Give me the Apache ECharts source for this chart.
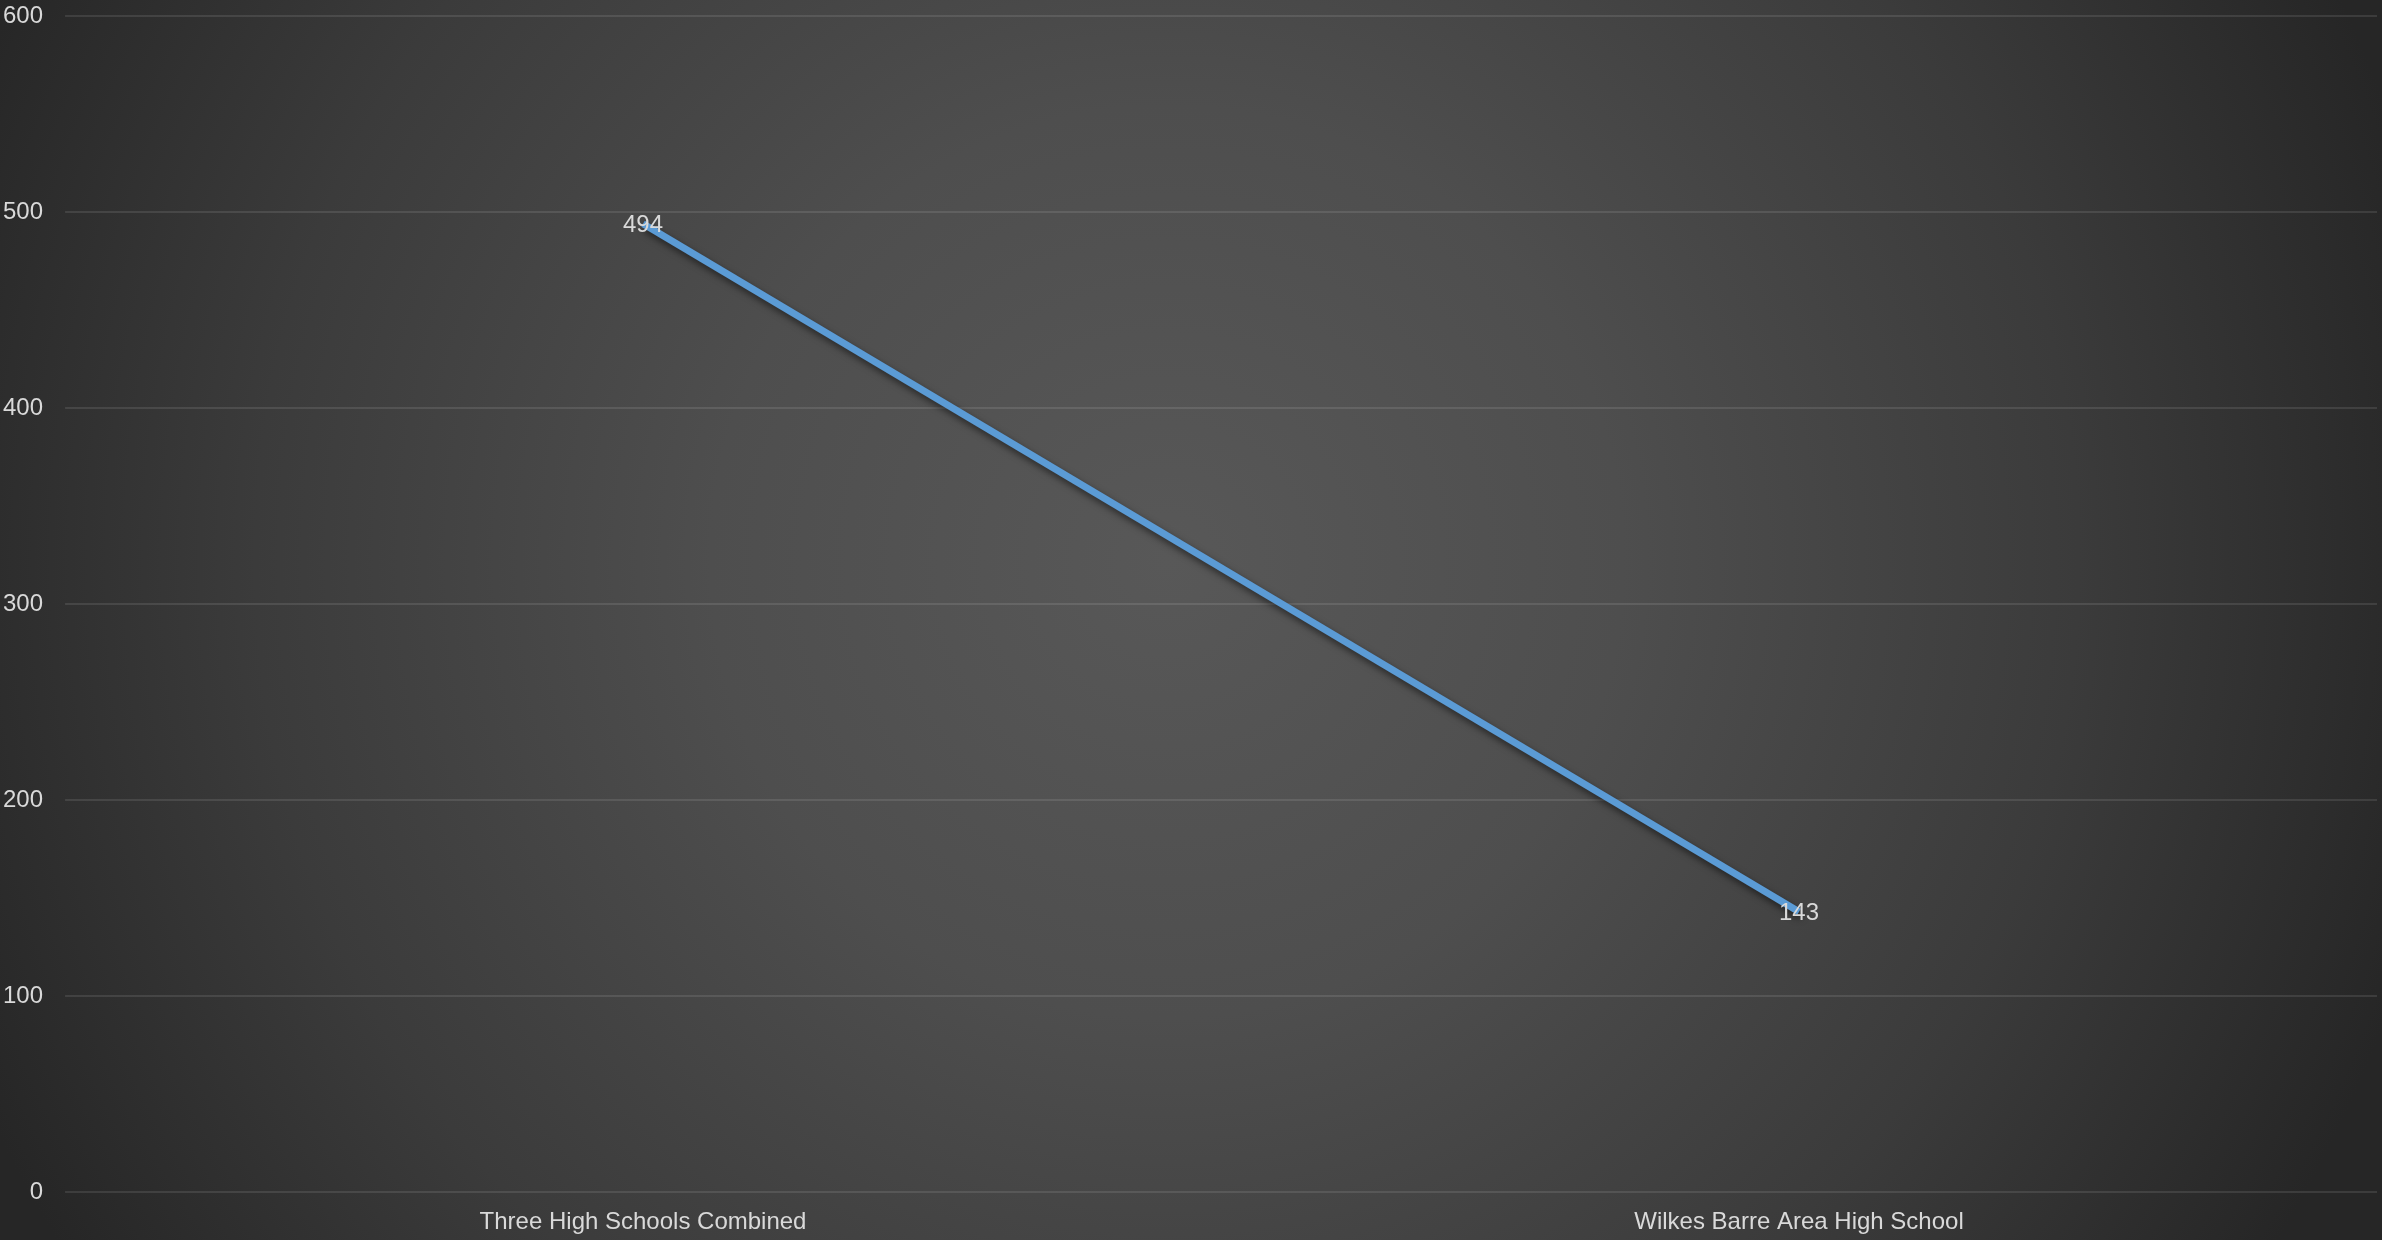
<!DOCTYPE html>
<html>
<head>
<meta charset="utf-8">
<script src="https://cdn.jsdelivr.net/npm/echarts@6/dist/echarts.min.js"></script>
<style>
html,body{margin:0;padding:0;background:#2a2a2a;}
#chart{width:2382px;height:1240px;}
</style>
</head>
<body>
<div id="chart"></div>
<script>
const categories = ["Three High Schools Combined", "Wilkes Barre Area High School"];
const values = [494, 143];
const yTicks = { min: 0, max: 600, interval: 100 };

const chart = echarts.init(document.getElementById('chart'), null, { renderer: 'canvas' });
const textColor = '#d9d9d9';
const font = '"Liberation Sans", Arial, sans-serif';

chart.setOption({
  animation: false,
  backgroundColor: 'transparent',
  graphic: [{
    type: 'rect',
    z: -100,
    silent: true,
    shape: { x: 0, y: 0, width: 2382, height: 1240 },
    style: {
      fill: {
        type: 'radial',
        x: 0.49, y: 0.453, r: 1.05,
        colorStops: [
          { offset: 0, color: '#585858' },
          { offset: 0.35, color: '#4e4e4e' },
          { offset: 0.7, color: '#3b3b3b' },
          { offset: 1, color: '#262626' }
        ]
      }
    }
  }],
  grid: { left: 65, right: 5, top: 16, bottom: 48, containLabel: false },
  xAxis: {
    type: 'category',
    data: categories,
    boundaryGap: true,
    axisLine: { show: false },
    axisTick: { show: false },
    axisLabel: { color: textColor, fontSize: 24, fontFamily: font, margin: 18 }
  },
  yAxis: {
    type: 'value',
    min: yTicks.min,
    max: yTicks.max,
    interval: yTicks.interval,
    axisLine: { show: false },
    axisTick: { show: false },
    axisLabel: { color: textColor, fontSize: 24, fontFamily: font, margin: 22 },
    splitLine: { lineStyle: { color: 'rgba(255,255,255,0.1)', width: 2 } }
  },
  series: [{
    type: 'line',
    data: values,
    symbol: 'circle',
    symbolSize: 2,
    showSymbol: true,
    itemStyle: { color: 'rgba(0,0,0,0)', borderWidth: 0 },
    lineStyle: {
      color: '#5b9bd5',
      width: 7,
      shadowColor: 'rgba(0,0,0,0.55)',
      shadowBlur: 7,
      shadowOffsetX: 2,
      shadowOffsetY: 4
    },
    label: {
      show: true,
      position: 'inside',
      offset: [0, 2],
      color: textColor,
      fontSize: 24,
      fontFamily: font
    }
  }]
});
</script>
</body>
</html>
